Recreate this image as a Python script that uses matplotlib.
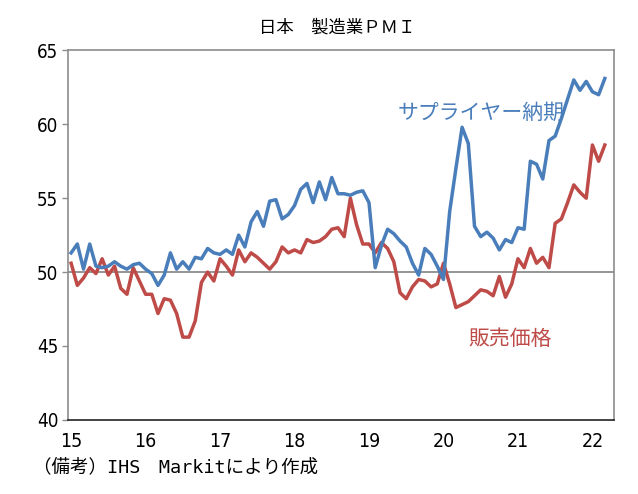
import matplotlib
matplotlib.use("Agg")
import matplotlib.pyplot as plt
import numpy as np

# 日本 製造業PMI (2015/1 - 2022/3, 月次)
years = ["15", "16", "17", "18", "19", "20", "21", "22"]

supplier = [51.3, 51.9, 50.2, 51.9, 50.4, 50.3, 50.4, 50.7, 50.4, 50.2, 50.5, 50.6,
            50.2, 49.9, 49.1, 49.8, 51.3, 50.2, 50.7, 50.2, 51.0, 50.9, 51.6, 51.3,
            51.2, 51.5, 51.2, 52.5, 51.7, 53.4, 54.1, 53.1, 54.8, 54.9, 53.6, 53.9,
            54.5, 55.6, 56.0, 54.7, 56.1, 54.9, 56.4, 55.3, 55.3, 55.2, 55.4, 55.5,
            54.7, 50.3, 51.8, 52.9, 52.6, 52.1, 51.7, 50.6, 49.8, 51.6, 51.2, 50.4,
            49.5, 54.1, 57.0, 59.8, 58.7, 53.1, 52.4, 52.7, 52.3, 51.5, 52.2, 52.0,
            53.0, 52.9, 57.5, 57.3, 56.3, 58.9, 59.2, 60.4, 61.7, 63.0, 62.3, 62.9,
            62.2, 62.0, 63.1]

prices = [50.6, 49.1, 49.6, 50.3, 49.9, 50.9, 49.8, 50.4, 48.9, 48.5, 50.3, 49.4,
          48.5, 48.5, 47.2, 48.2, 48.1, 47.2, 45.6, 45.6, 46.7, 49.3, 50.0, 49.4,
          50.9, 50.4, 49.8, 51.5, 50.7, 51.3, 51.0, 50.6, 50.2, 50.7, 51.7, 51.3,
          51.5, 51.3, 52.2, 52.0, 52.1, 52.4, 52.9, 53.0, 52.4, 55.0, 53.2, 51.9,
          51.9, 51.3, 52.0, 51.6, 50.7, 48.6, 48.2, 49.0, 49.5, 49.4, 49.0, 49.2,
          50.6, 49.2, 47.6, 47.8, 48.0, 48.4, 48.8, 48.7, 48.4, 49.7, 48.3, 49.2,
          50.9, 50.3, 51.6, 50.6, 51.0, 50.3, 53.3, 53.6, 54.7, 55.9, 55.4, 55.0,
          58.6, 57.5, 58.6]

blue = "#4a7ebb"
red = "#be4b48"
jp = ["Noto Sans CJK JP", "DejaVu Sans"]

fig = plt.figure(figsize=(6.38, 4.94), dpi=100)
ax = fig.add_axes([0.1066, 0.150, 0.856, 0.748])

x = np.arange(len(supplier))
ax.axhline(50, color="#8c8c8c", lw=1.3, zorder=1)
ax.plot(x, supplier, color=blue, lw=2.5, solid_joinstyle="round", zorder=3)
ax.plot(x, prices, color=red, lw=2.5, solid_joinstyle="round", zorder=2)

ax.set_xlim(-0.5, 87.5)
ax.set_ylim(40, 65)
ax.set_yticks(range(40, 66, 5))
ax.set_yticklabels([str(v) for v in range(40, 66, 5)], family="DejaVu Sans",
                   fontstretch="condensed", fontsize=13.5)
ax.set_xticks(np.arange(len(years)) * 12)
ax.set_xticklabels(years, family="DejaVu Sans", fontstretch="condensed", fontsize=14)
ax.tick_params(axis="y", length=4, width=1, color="#8c8c8c", pad=3)
ax.tick_params(axis="x", length=0, pad=9)

for s in ["left", "right", "top"]:
    ax.spines[s].set_color("#8c8c8c")
    ax.spines[s].set_linewidth(1.2)
ax.spines["bottom"].set_color("#222222")
ax.spines["bottom"].set_linewidth(1.2)

ax.text(52.6, 60.8, "サプライヤー納期", color=blue, fontsize=15, family=jp,
        ha="left", va="center")
ax.text(70.7, 45.5, "販売価格", color=red, fontsize=15, family=jp,
        ha="center", va="center")

fig.text(0.528, 0.945, "日本　製造業ＰＭＩ", fontsize=12.5, family=jp,
         ha="center", va="center")
fig.text(0.052, 0.054, "（備考）IHS　Markitにより作成", fontsize=13.3,
         family=["DejaVu Sans Mono", "Noto Sans CJK JP"],
         ha="left", va="center")

fig.savefig("out.png", dpi=100)
